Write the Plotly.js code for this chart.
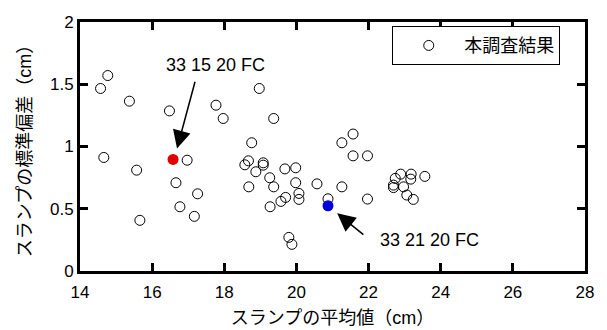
<!DOCTYPE html>
<html>
<head>
<meta charset="utf-8">
<script src="https://cdn.plot.ly/plotly-3.0.1.min.js"></script>
<style>html,body{margin:0;padding:0;background:#fff;}#chart{width:607px;height:330px;}</style>
</head>
<body>
<div id="chart"></div>
<script>
// Survey results: mean slump (cm) vs standard deviation of slump (cm)
const surveyMean = [14.57,14.77,15.37,16.48,17.77,17.97,18.97,19.37,18.76,21.26,21.57,21.57,21.97,
  14.66,16.97,15.57,15.66,16.66,16.77,17.26,17.17,18.57,18.67,18.875,19.08,19.08,18.68,19.26,19.37,
  19.68,19.98,19.98,20.07,20.07,19.70,19.57,19.27,19.79,19.875,20.57,20.875,21.26,21.97,
  22.74,22.89,23.18,23.17,23.56,22.69,22.69,22.97,23.06,23.24];
const surveySD = [1.466,1.57,1.364,1.286,1.332,1.225,1.466,1.225,1.03,1.03,1.10,0.925,0.925,
  0.912,0.89,0.81,0.407,0.709,0.516,0.62,0.439,0.853,0.885,0.797,0.869,0.85,0.676,0.749,0.676,
  0.82,0.829,0.709,0.623,0.575,0.591,0.559,0.516,0.27,0.214,0.70,0.58,0.676,0.578,
  0.744,0.778,0.778,0.738,0.76,0.69,0.67,0.676,0.61,0.575];
const legendName = '本調査結果';

const redMean = [16.58], redSD = [0.896], redLabel = '33 15 20 FC';
const blueMean = [20.875], blueSD = [0.524], blueLabel = '33 21 20 FC';

const xTitle = 'スランプの平均値（cm）';
const yTitle = 'スランプの標準偏差（cm）';

const FONT = '"Liberation Sans", Arial, "Noto Sans CJK JP", sans-serif';

const traces = [
  {x: surveyMean, y: surveySD, type: 'scatter', mode: 'markers', name: legendName,
   marker: {symbol: 'circle-open', size: 10, color: '#000', line: {width: 1, color: '#000'}}},
  {x: redMean, y: redSD, type: 'scatter', mode: 'markers', showlegend: false,
   marker: {symbol: 'circle', size: 11, color: '#e00000'}},
  {x: blueMean, y: blueSD, type: 'scatter', mode: 'markers', showlegend: false,
   marker: {symbol: 'circle', size: 11, color: '#0000dd'}}
];

const axisCommon = {
  showline: true, linewidth: 3, linecolor: '#000', mirror: 'ticks',
  ticks: 'inside', ticklen: 8, tickwidth: 3, tickcolor: '#000',
  showgrid: false, zeroline: false,
  tickfont: {family: FONT, size: 17, color: '#000'}
};

const layout = {
  width: 607, height: 330,
  margin: {l: 80, r: 22, t: 22, b: 59},
  paper_bgcolor: '#fff', plot_bgcolor: '#fff',
  font: {family: FONT, color: '#000'},
  xaxis: Object.assign({}, axisCommon, {
    range: [14, 28], dtick: 2, tick0: 14, ticklabelstandoff: 4,
    title: {text: xTitle, font: {family: FONT, size: 18, color: '#000'}, standoff: 10}
  }),
  yaxis: Object.assign({}, axisCommon, {
    range: [0, 2], dtick: 0.5, tick0: 0,
    title: {text: yTitle, font: {family: FONT, size: 18, color: '#000'}, standoff: 14}
  }),
  showlegend: true,
  legend: {
    x: 0.951, y: 0.983, xanchor: 'right', yanchor: 'top',
    bgcolor: '#fff', bordercolor: '#000', borderwidth: 1,
    itemwidth: 61,
    font: {family: FONT, size: 18, color: '#000'}
  },
  annotations: [
    {x: 17.76, y: 1.653, xref: 'x', yref: 'y', text: redLabel, showarrow: false,
     font: {family: FONT, size: 18, color: '#000'}},
    {x: 16.69, y: 0.984, xref: 'x', yref: 'y', text: '', showarrow: true,
     ax: 18.4, ay: -68.3, arrowhead: 2, arrowsize: 2.4, arrowwidth: 1.5, arrowcolor: '#000'},
    {x: 23.68, y: 0.249, xref: 'x', yref: 'y', text: blueLabel, showarrow: false,
     font: {family: FONT, size: 18, color: '#000'}},
    {x: 21.13, y: 0.463, xref: 'x', yref: 'y', text: '', showarrow: true,
     ax: 27.7, ay: 22.4, arrowhead: 2, arrowsize: 2.4, arrowwidth: 1.5, arrowcolor: '#000'}
  ]
};

Plotly.newPlot('chart', traces, layout, {displayModeBar: false, staticPlot: true});
</script>
</body>
</html>
